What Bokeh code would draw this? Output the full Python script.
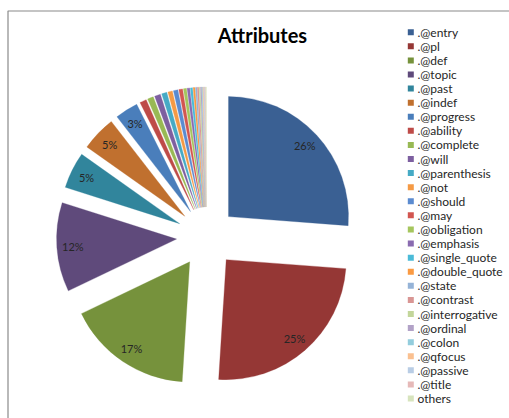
import math
from bokeh.plotting import figure
from bokeh.models import Range1d, ColumnDataSource
from bokeh.core.properties import value
from bokeh.embed import file_html
from bokeh.resources import INLINE

title = "Attributes"
categories = [".@entry", ".@pl", ".@def", ".@topic", ".@past", ".@indef", ".@progress",
              ".@ability", ".@complete", ".@will", ".@parenthesis", ".@not", ".@should",
              ".@may", ".@obligation", ".@emphasis", ".@single_quote", ".@double_quote",
              ".@state", ".@contrast", ".@interrogative", ".@ordinal", ".@colon",
              ".@qfocus", ".@passive", ".@title", "others"]
shares = [26.2, 24.8, 16.9, 12.0, 4.9, 4.7, 3.1,
          0.9, 0.8, 0.8, 0.7, 0.6, 0.6,
          0.5, 0.4, 0.35, 0.3, 0.25,
          0.2, 0.2, 0.15, 0.15, 0.1,
          0.1, 0.1, 0.1, 0.1]
colors = ["#3A6093", "#953735", "#76923C", "#5F4A7B", "#31859C", "#C0702F", "#4A7EBB",
          "#BE4B48", "#98B954", "#7D5FA0", "#46AAC5", "#F59A45", "#5B8BD0",
          "#D25650", "#A5C65D", "#8A6BB0", "#4BBBD8", "#FA9A42",
          "#95B3D7", "#D99694", "#C3D69B", "#B2A2C7", "#93CDDD",
          "#FAC090", "#B9CDE5", "#E6B9B8", "#D7E4BD"]

W, H = 509, 418
CX, CY = 206.0, H - 236.5
R, EXPLODE, LABEL_R = 120.0, 30.0, 104.0

total = sum(shares)
xs, ys, starts, ends, lx, ly, ltxt = [], [], [], [], [], [], []
cum = 0.0
for s in shares:
    t1 = 360.0 * cum / total
    cum += s
    t2 = 360.0 * cum / total
    mid = math.radians((t1 + t2) / 2)
    ex = CX + EXPLODE * math.sin(mid)
    ey = CY + EXPLODE * math.cos(mid)
    xs.append(ex)
    ys.append(ey)
    starts.append(math.radians(90 - t2))
    ends.append(math.radians(90 - t1))
    if s / total * 100 >= 2.5:
        lx.append(ex + LABEL_R * math.sin(mid))
        ly.append(ey + LABEL_R * math.cos(mid))
        ltxt.append(f"{round(s / total * 100)}%")

p = figure(width=W, height=H, x_range=Range1d(0, W), y_range=Range1d(0, H),
           output_backend="svg", toolbar_location=None, min_border=0,
           x_axis_type=None, y_axis_type=None)
p.grid.visible = False
p.outline_line_color = None
p.background_fill_color = "white"
p.border_fill_color = "white"

# chart area frame
p.quad(left=[7.5], right=[W + 10], top=[H - 10.5], bottom=[-10],
       fill_color=None, line_color="#8a8a8a", line_width=1.2)

src = ColumnDataSource(dict(x=xs, y=ys, start=starts, end=ends, color=colors))
p.wedge(x="x", y="y", radius=R, start_angle="start", end_angle="end",
        direction="anticlock", fill_color="color", line_color="color",
        line_width=0.3, source=src)

p.text(x=lx, y=ly, text=ltxt, text_align="center", text_baseline="middle",
       text_font=value("Lato"), text_font_size="11px", text_color="#262626")

p.text(x=[262], y=[H - 34], text=[title], text_align="center", text_baseline="middle",
       text_font=value("Lato"), text_font_size="20px", text_font_style="bold",
       text_color="#000000")

leg_y = [H - (31.7 + i * 14.09) for i in range(len(categories))]
p.rect(x=[410.3] * len(categories), y=leg_y, width=6, height=6,
       fill_color=colors, line_color=None)
p.text(x=[417] * len(categories), y=leg_y, text=categories, text_align="left",
       text_baseline="middle", text_font=value("Lato"), text_font_size="12px",
       text_color="#262626")

open("out.html", "w").write(file_html(p, INLINE))
